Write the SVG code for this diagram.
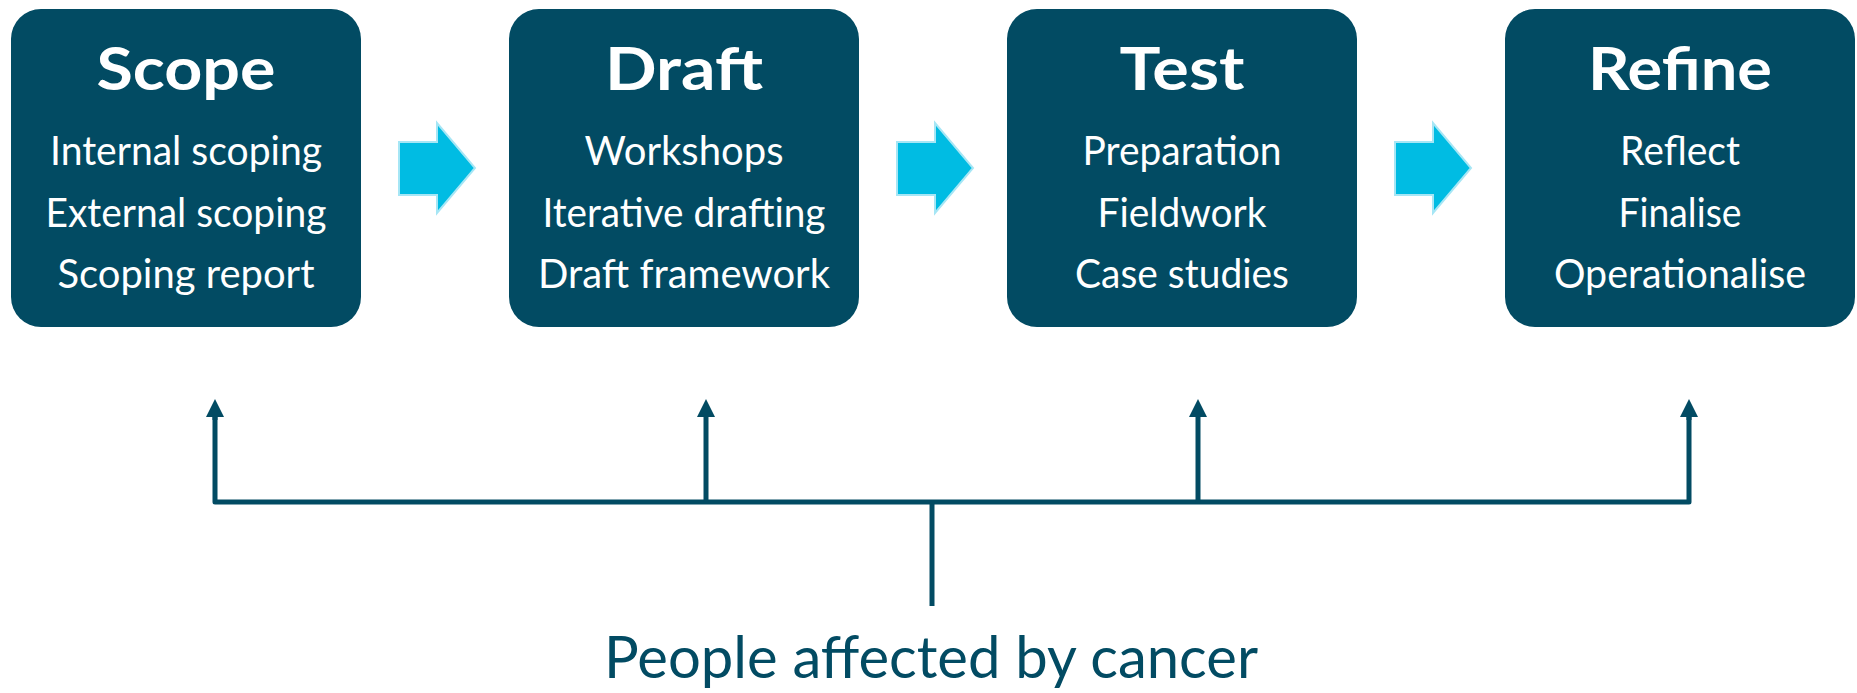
<svg xmlns="http://www.w3.org/2000/svg" width="1857" height="693" viewBox="0 0 1857 693">
<style>
.box{fill:#024B63}
.title{font-family:Lato,"Liberation Sans",sans-serif;font-weight:bold;font-size:60px;fill:#fff;text-anchor:middle}
.item{font-family:Lato,"Liberation Sans",sans-serif;font-size:40px;fill:#fff;text-anchor:middle}
.flow{fill:#00BCE3;stroke:#A6E6F5;stroke-width:2}
.conn{fill:none;stroke:#024B63;stroke-width:5}
.label{font-family:Lato,"Liberation Sans",sans-serif;font-size:58px;fill:#024B63;text-anchor:middle}
</style>
<defs>
<marker id="ah" viewBox="0 0 18 18" refX="0" refY="9" markerWidth="18" markerHeight="18" markerUnits="userSpaceOnUse" orient="auto">
<path d="M0,0 L18,9 L0,18 z" fill="#024B63"/>
</marker>
</defs>
<g id="scope">
<rect class="box" x="11" y="9" width="350" height="318" rx="30"/>
<text class="title" x="186" y="90" textLength="179" lengthAdjust="spacingAndGlyphs">Scope</text>
<text class="item" x="186" y="165" textLength="272" lengthAdjust="spacingAndGlyphs">Internal scoping</text>
<text class="item" x="186" y="227" textLength="281" lengthAdjust="spacingAndGlyphs">External scoping</text>
<text class="item" x="186" y="288" textLength="257" lengthAdjust="spacingAndGlyphs">Scoping report</text>
</g>
<g id="draft">
<rect class="box" x="509" y="9" width="350" height="318" rx="30"/>
<text class="title" x="684" y="90" textLength="158" lengthAdjust="spacingAndGlyphs">Draft</text>
<text class="item" x="684" y="165" textLength="199" lengthAdjust="spacingAndGlyphs">Workshops</text>
<text class="item" x="684" y="227" textLength="283" lengthAdjust="spacingAndGlyphs">Iterative drafting</text>
<text class="item" x="684" y="288" textLength="292" lengthAdjust="spacingAndGlyphs">Draft framework</text>
</g>
<g id="test">
<rect class="box" x="1007" y="9" width="350" height="318" rx="30"/>
<text class="title" x="1182" y="90" textLength="125" lengthAdjust="spacingAndGlyphs">Test</text>
<text class="item" x="1182" y="165" textLength="199" lengthAdjust="spacingAndGlyphs">Preparation</text>
<text class="item" x="1182" y="227" textLength="169" lengthAdjust="spacingAndGlyphs">Fieldwork</text>
<text class="item" x="1182" y="288" textLength="214" lengthAdjust="spacingAndGlyphs">Case studies</text>
</g>
<g id="refine">
<rect class="box" x="1505" y="9" width="350" height="318" rx="30"/>
<text class="title" x="1680" y="90" textLength="184" lengthAdjust="spacingAndGlyphs">Refine</text>
<text class="item" x="1680" y="165" textLength="120" lengthAdjust="spacingAndGlyphs">Reflect</text>
<text class="item" x="1680" y="227" textLength="123" lengthAdjust="spacingAndGlyphs">Finalise</text>
<text class="item" x="1680" y="288" textLength="252" lengthAdjust="spacingAndGlyphs">Operationalise</text>
</g>
<g id="people">
<text class="label" x="931" y="678" textLength="654" lengthAdjust="spacingAndGlyphs">People affected by cancer</text>
</g>
<g id="connectors">
<polygon class="flow" points="399,142 437,142 437,123 475,168 437,213 437,195 399,195"/>
<polygon class="flow" points="897,142 935,142 935,123 973,168 935,213 935,195 897,195"/>
<polygon class="flow" points="1395,142 1433,142 1433,123 1471,168 1433,213 1433,195 1395,195"/>
<path class="conn" stroke-linejoin="round" d="M215,417 V502 H1689 V417"/>
<path class="conn" d="M215,420 V417" marker-end="url(#ah)"/>
<path class="conn" d="M1689,420 V417" marker-end="url(#ah)"/>
<path class="conn" d="M706,502 V417" marker-end="url(#ah)"/>
<path class="conn" d="M1198,502 V417" marker-end="url(#ah)"/>
<path class="conn" d="M932,502 V606"/>
</g>
</svg>
